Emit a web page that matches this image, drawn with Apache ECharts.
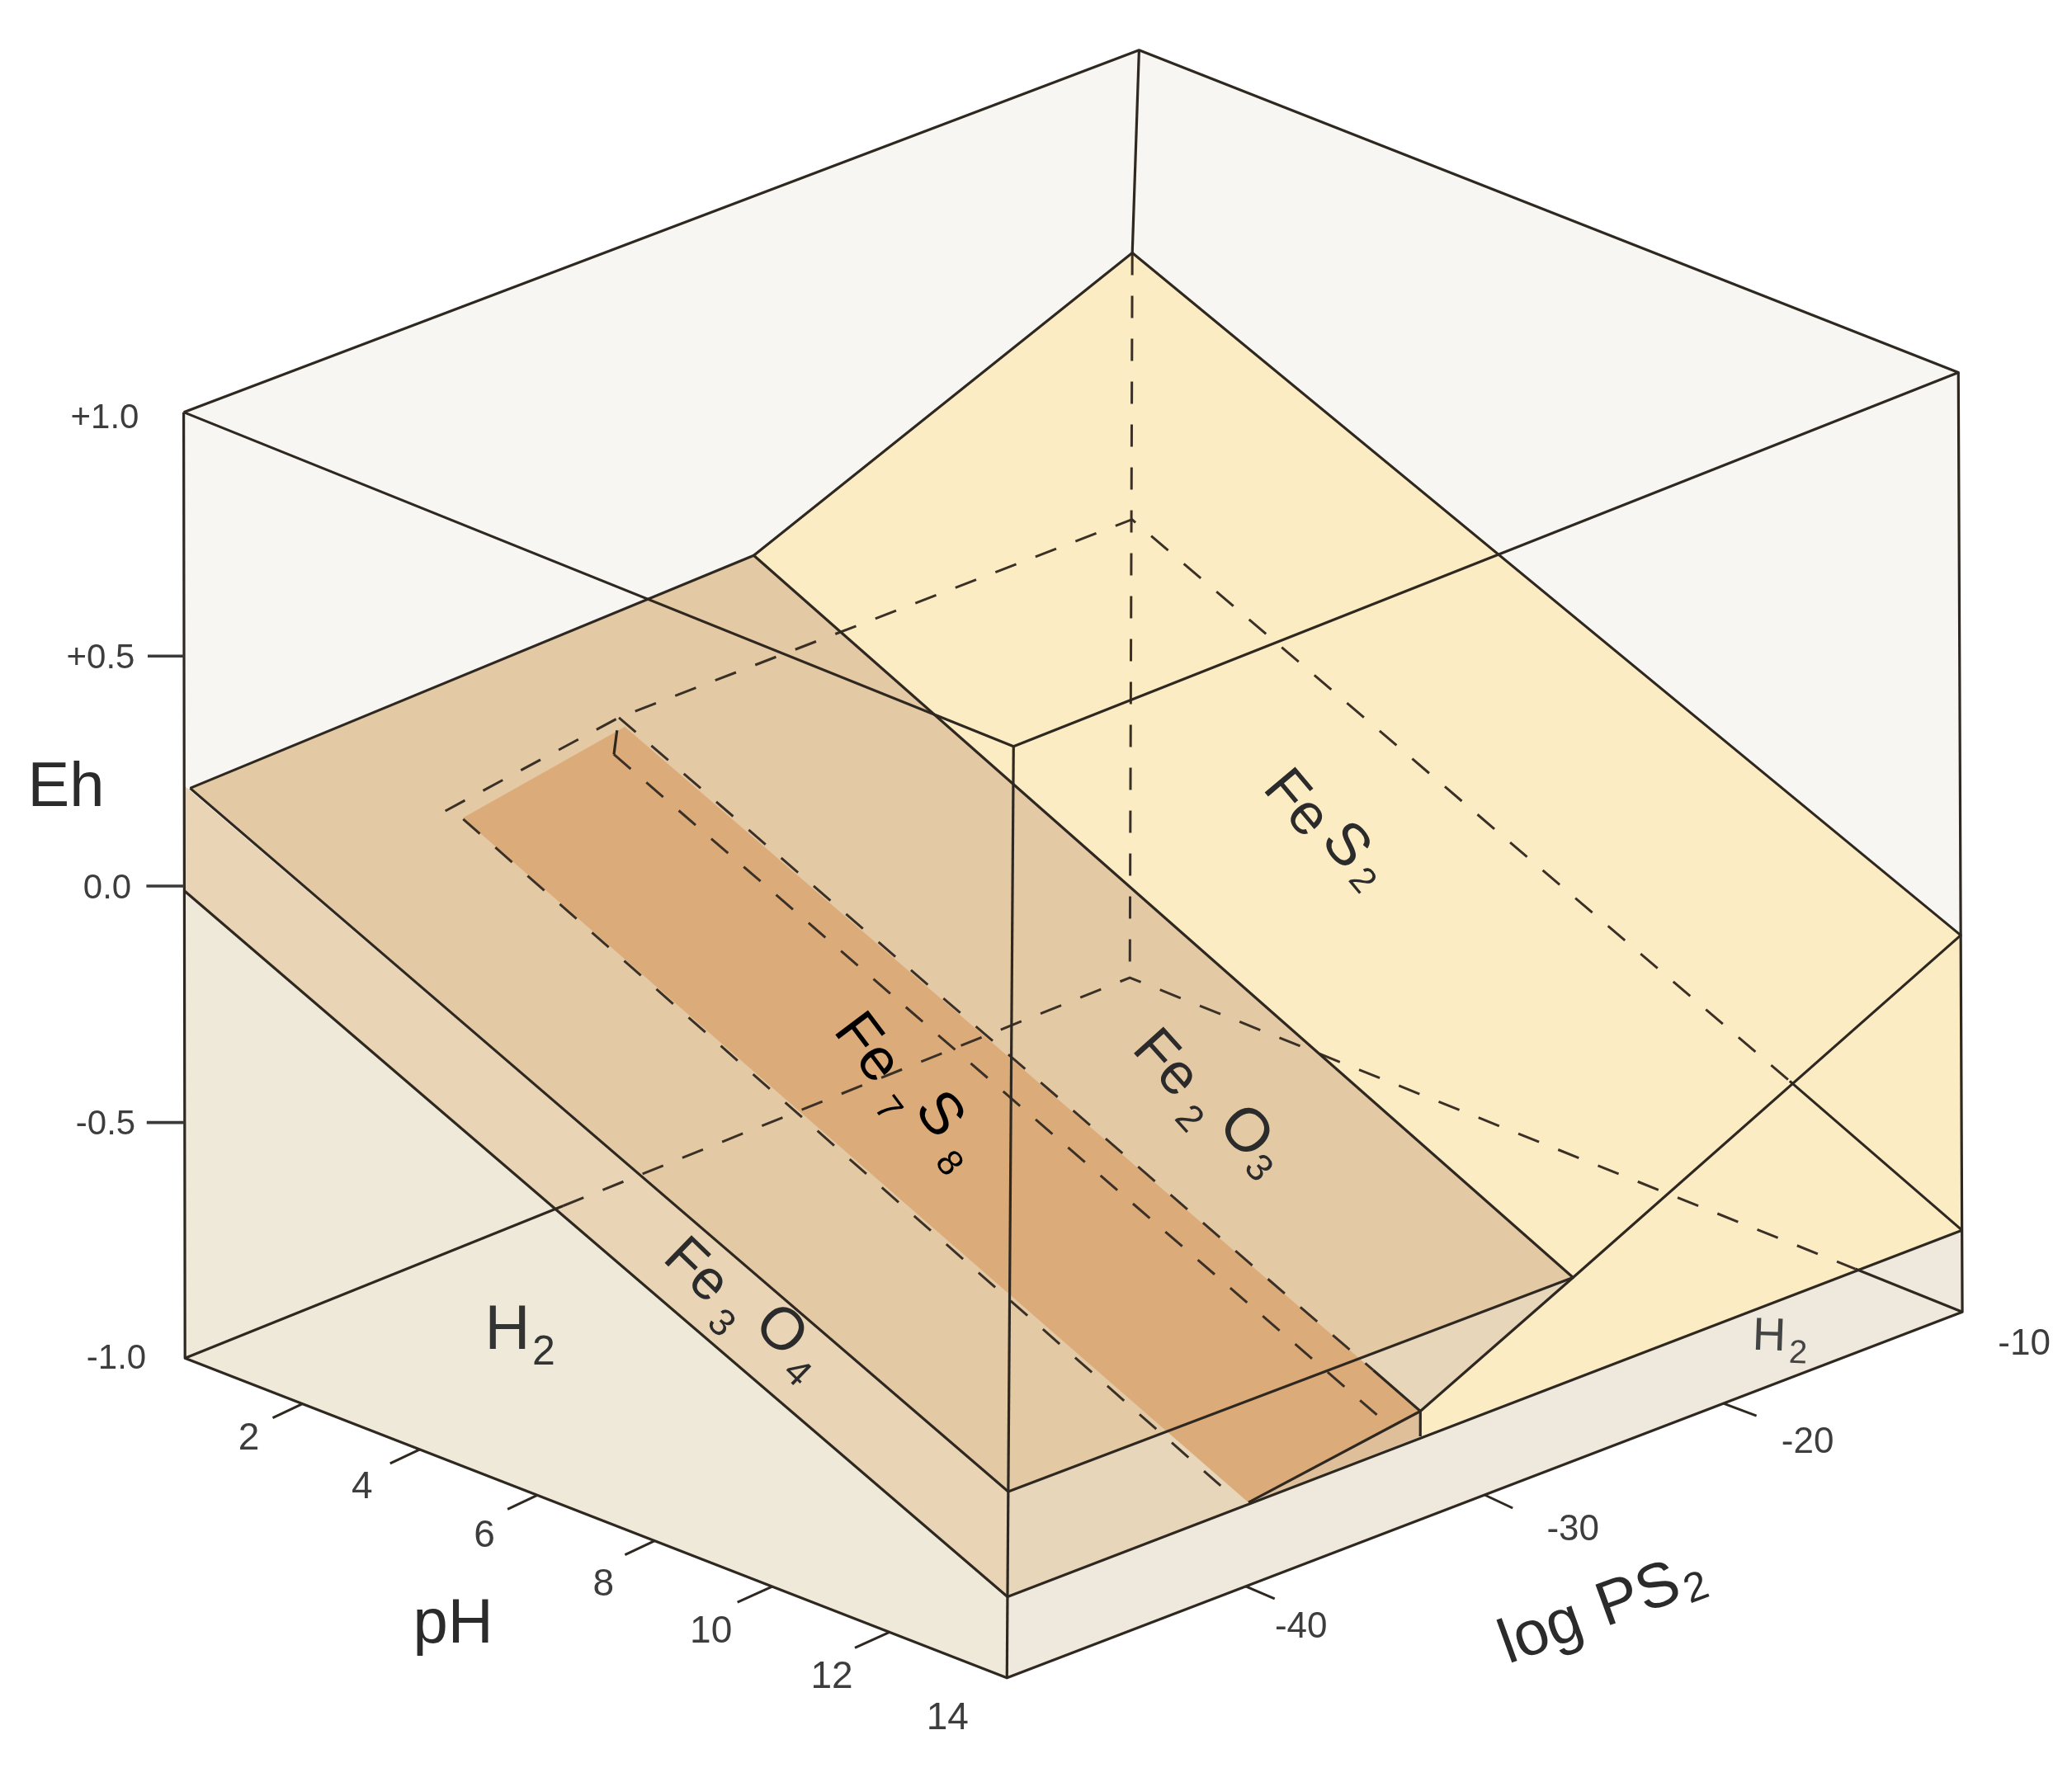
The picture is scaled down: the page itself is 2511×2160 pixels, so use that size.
<!DOCTYPE html>
<html>
<head>
<meta charset="utf-8">
<style>html,body{margin:0;padding:0;background:#fff}#chart{width:2511px;height:2160px}</style>
<script src="https://cdn.jsdelivr.net/npm/echarts@6/dist/echarts.min.js"></script>
</head>
<body>
<div id="chart"></div>
<script>
// ---- data, in chart units: [pH, log PS2, Eh] ----
const phTicks = [2, 4, 6, 8, 10, 12, 14];
const logPs2Ticks = [-40, -30, -20, -10];
const ehTicks = [1.0, 0.5, 0.0, -0.5, -1.0];
const ehTickLabels = ['+1.0', '+0.5', '0.0', '-0.5', '-1.0'];

const boxOutline = [[0,-50,-1],[0,-50,1],[0,-10,1],[14,-10,1],[14,-10,-1],[14,-50,-1]];
const h2LeftFace = [[0,-50,-0.012],[14,-50,-0.826],[14,-50,-1],[0,-50,-1]];
const h2RightFace = [[14,-50,-0.826],[14,-10,-0.826],[14,-10,-1],[14,-50,-1]];
const fe3o4LeftFace = [[0,-50,0.21],[14,-50,-0.6],[14,-50,-0.826],[0,-50,-0.012]];
const fe3o4RightFace = [[14,-50,-0.6],[14,-26.3,-0.608],[14,-32.7,-0.768],[14,-32.7,-0.822],[14,-50,-0.826]];
const fe2o3Surface = [[0.1,-50,0.21],[0,-26.05,0.23],[14,-26.3,-0.608],[14,-50,-0.6]];
const fes2Surface = [[0,-26.05,0.23],[0,-10.2,0.567],[14,-10,-0.198],[14,-26.3,-0.608]];
const fes2RightFace = [[14,-26.3,-0.608],[14,-10,-0.198],[14,-10,-0.826],[14,-32.7,-0.822],[14,-32.7,-0.768]];
const fe7s8Surface = [[0.9,-40.5,0],[0.5,-32.7,0.02],[14,-32.7,-0.768],[14,-39.9,-0.822]];
const fe7s8Sliver = [[14,-39.9,-0.822],[14,-32.7,-0.768],[14,-32.7,-0.822]];

const solidLines = [
  [[0,-50,1],[0,-10,1],[14,-10,1],[14,-50,1],[0,-50,1]],
  [[0,-50,1],[0,-50,-1],[14,-50,-1],[14,-10,-1],[14,-10,1]],
  [[14,-50,1],[14,-50,-1]],
  [[0,-10,1],[0,-10.2,0.567]],
  [[0,-50,-1],[0,-34,-1]],
  [[12.2,-10,-1],[14,-10,-1]],
  [[0.1,-50,0.21],[0,-26.05,0.23],[14,-26.3,-0.608],[14,-50,-0.6],[0.1,-50,0.21]],
  [[0,-26.05,0.23],[0,-10.2,0.567],[14,-10,-0.198],[14,-26.3,-0.608],[14,-32.7,-0.768],[14,-32.7,-0.822]],
  [[0,-50,-0.012],[14,-50,-0.826],[14,-10,-0.826]],
  [[11.1,-10,-0.655],[14,-10,-0.826]],
  [[13.2,-32.7,-0.72],[14,-32.7,-0.768],[14,-39.9,-0.822]],
  [[0.61,-33.3,0.03],[1,-34.4,0.02]]
];
const dashedLines = [
  [[0,-10.2,0.567],[0,-10,-1]],
  [[0,-34,-1],[0,-10,-1],[12.2,-10,-1]],
  [[0.8,-41,0.02],[0.4,-32.7,0.035],[0,-10.1,-0.01],[11.1,-10,-0.655]],
  [[0.4,-32.7,0.035],[13.2,-32.7,-0.72]],
  [[1,-34.4,0.02],[14,-34.4,-0.748]],
  [[0.7,-40,-0.022],[13.8,-40,-0.82]]
];

// ---- projection of the box onto the drawing plane ----
const SCALE = 2511 / 1568;
const CORNERS = {
  lowLeft:[140,1028], lowFront:[762,1270], lowRight:[1485,993], lowBack:[855,740],
  upLeft:[139,312], upFront:[767,565], upRight:[1482,282], upBack:[862,38]
};
function mix(a, b, t) { return [a[0] + (b[0]-a[0])*t, a[1] + (b[1]-a[1])*t]; }
function project(p) {
  const u = p[0] / 14, v = (p[1] + 50) / 40, w = (p[2] + 1) / 2, c = CORNERS;
  const low = mix(mix(c.lowLeft, c.lowFront, u), mix(c.lowBack, c.lowRight, u), v);
  const up = mix(mix(c.upLeft, c.upFront, u), mix(c.upBack, c.upRight, u), v);
  const r = mix(low, up, w);
  return [r[0]*SCALE, r[1]*SCALE];
}

// ---- styles and layout ----
const FONT = '"Liberation Sans", Arial, sans-serif';
const LINE = '#2e2820';
const fills = [
  [boxOutline, '#f7f6f2'],
  [h2LeftFace, '#efe9da'],
  [h2RightFace, '#eee9dc'],
  [fe3o4LeftFace, '#e9d5b6'],
  [fe3o4RightFace, '#e8d6bb'],
  [fe2o3Surface, '#e4c9a5'],
  [fes2Surface, '#fcecc4'],
  [fes2RightFace, '#fcecc4'],
  [fe7s8Surface, '#dcab7a'],
  [fe7s8Sliver, '#dfbf99']
];
const phLayout = {
  2:{tick:[-36,17],label:[-65,43]}, 4:{tick:[-36,17],label:[-70,46]}, 6:{tick:[-36,17],label:[-64,50]},
  8:{tick:[-36,17],label:[-62,54]}, 10:{tick:[-42,19],label:[-74,55]}, 12:{tick:[-42,19],label:[-70,55]},
  14:{tick:null,label:[-72,50]}
};
const psLayout = {
  '-40':{tick:[35,15],label:[67,50]}, '-30':{tick:[34,16],label:[107,43]},
  '-20':{tick:[40,15],label:[102,48]}, '-10':{tick:null,label:[75,40]}
};
const ehLayout = {
  '1':{tick:null,x:127,dy:8}, '0.5':{tick:44,x:122,dy:12,tickDy:9}, '0':{tick:46,x:130,dy:4,tickDy:1},
  '-0.5':{tick:46,x:128,dy:4,tickDy:1}, '-1':{tick:null,x:141,dy:1}
};
// text pieces: string, centre on the drawing plane, degrees clockwise, font size, colour
const annotations = [
  ['Eh',80,956,0,76,'#2b2b2b'], ['pH',549,1970,0,76,'#2b2b2b'],
  ['H',615,1614,0,76,'#333'], ['2',659,1640,0,50,'#333'],
  ['H',2144,1621,2,56,'#444'], ['2',2179,1641,2,40,'#444'],
  ['log',1868,1980,-20,76,'#2b2b2b'], ['PS',1986,1935,-20,76,'#2b2b2b'], ['2',2056,1926,-20,50,'#2b2b2b'],
  ['Fe',1570,975,50,70,'#2b2b2b'], ['S',1630,1026,50,72,'#2b2b2b'], ['2',1650,1068,50,44,'#2b2b2b'],
  ['Fe',1412,1290,48,70,'#2b2b2b'], ['2',1440,1357,48,46,'#2b2b2b'], ['O',1508,1373,48,74,'#2b2b2b'], ['3',1524,1417,48,46,'#2b2b2b'],
  ['Fe',843,1541,44,68,'#2b2b2b'], ['3',873,1605,44,46,'#2b2b2b'], ['O',945,1614,44,72,'#2b2b2b'], ['4',965,1665,44,46,'#2b2b2b'],
  ['Fe',1050,1271,53,72,'#000'], ['7',1075,1345,53,44,'#000'], ['S',1137,1352,53,72,'#000'], ['8',1149,1411,53,44,'#000']
];

function pathPts(api, pts) { return pts.map(p => api.coord(project(p))); }

const series = [
  { type:'custom', coordinateSystem:'cartesian2d', silent:true, z:1,
    data: fills.map(f => project(f[0][0])),
    renderItem(params, api) {
      const f = fills[params.dataIndex];
      return { type:'polygon', shape:{points:pathPts(api, f[0])}, style:{fill:f[1], stroke:f[1], lineWidth:0.5} };
    } },
  { type:'custom', coordinateSystem:'cartesian2d', silent:true, z:2,
    data: dashedLines.map(l => project(l[0])),
    renderItem(params, api) {
      return { type:'polyline', shape:{points:pathPts(api, dashedLines[params.dataIndex])},
        style:{fill:null, stroke:'#3a3026', lineWidth:3, lineDash:[27,25]} };
    } },
  { type:'custom', coordinateSystem:'cartesian2d', silent:true, z:3,
    data: solidLines.map(l => project(l[0])),
    renderItem(params, api) {
      return { type:'polyline', shape:{points:pathPts(api, solidLines[params.dataIndex])},
        style:{fill:null, stroke:LINE, lineWidth:3.2, lineJoin:'round'} };
    } },
  { type:'custom', coordinateSystem:'cartesian2d', silent:true, z:4,
    data: phTicks.map(v => project([v,-50,-1])),
    renderItem(params, api) {
      const v = phTicks[params.dataIndex], o = api.coord(project([v,-50,-1])), l = phLayout[v];
      const kids = [{ type:'text', x:o[0]+l.label[0], y:o[1]+l.label[1],
        style:{text:String(v), font:'46px '+FONT, fill:'#3d3d3d', align:'center', verticalAlign:'middle'} }];
      if (l.tick) kids.push({ type:'line', shape:{x1:o[0],y1:o[1],x2:o[0]+l.tick[0],y2:o[1]+l.tick[1]}, style:{stroke:LINE,lineWidth:3} });
      return { type:'group', children:kids };
    } },
  { type:'custom', coordinateSystem:'cartesian2d', silent:true, z:4,
    data: logPs2Ticks.map(v => project([14,v,-1])),
    renderItem(params, api) {
      const v = logPs2Ticks[params.dataIndex], o = api.coord(project([14,v,-1])), l = psLayout[String(v)];
      const kids = [{ type:'text', x:o[0]+l.label[0], y:o[1]+l.label[1],
        style:{text:String(v), font:'44px '+FONT, fill:'#3d3d3d', align:'center', verticalAlign:'middle'} }];
      if (l.tick) kids.push({ type:'line', shape:{x1:o[0],y1:o[1],x2:o[0]+l.tick[0],y2:o[1]+l.tick[1]}, style:{stroke:LINE,lineWidth:3} });
      return { type:'group', children:kids };
    } },
  { type:'custom', coordinateSystem:'cartesian2d', silent:true, z:4,
    data: ehTicks.map(v => project([0,-50,v])),
    renderItem(params, api) {
      const i = params.dataIndex, v = ehTicks[i], o = api.coord(project([0,-50,v])), l = ehLayout[String(v)];
      const y = o[1] + l.dy, ty = o[1] + (l.tickDy || 0);
      const kids = [{ type:'text', x:l.x, y:y,
        style:{text:ehTickLabels[i], font:'42px '+FONT, fill:'#3d3d3d', align:'center', verticalAlign:'middle'} }];
      if (l.tick) kids.push({ type:'line', shape:{x1:o[0],y1:ty,x2:o[0]-l.tick,y2:ty}, style:{stroke:'#3a3a3a',lineWidth:3.6} });
      return { type:'group', children:kids };
    } },
  { type:'custom', coordinateSystem:'cartesian2d', silent:true, z:5,
    data: annotations.map(a => [a[1], a[2]]),
    renderItem(params, api) {
      const a = annotations[params.dataIndex], c = api.coord([a[1], a[2]]);
      return { type:'text', x:c[0], y:c[1], rotation:-a[3]*Math.PI/180,
        style:{text:a[0], font:a[4]+'px '+FONT, fill:a[5], align:'center', verticalAlign:'middle'} };
    } }
];

const chart = echarts.init(document.getElementById('chart'), null, {renderer:'canvas'});
chart.setOption({
  animation:false,
  backgroundColor:'#ffffff',
  grid:{left:0, right:0, top:0, bottom:0},
  xAxis:{type:'value', min:0, max:2511, show:false},
  yAxis:{type:'value', min:0, max:2160, inverse:true, show:false},
  series
});
</script>
</body>
</html>
